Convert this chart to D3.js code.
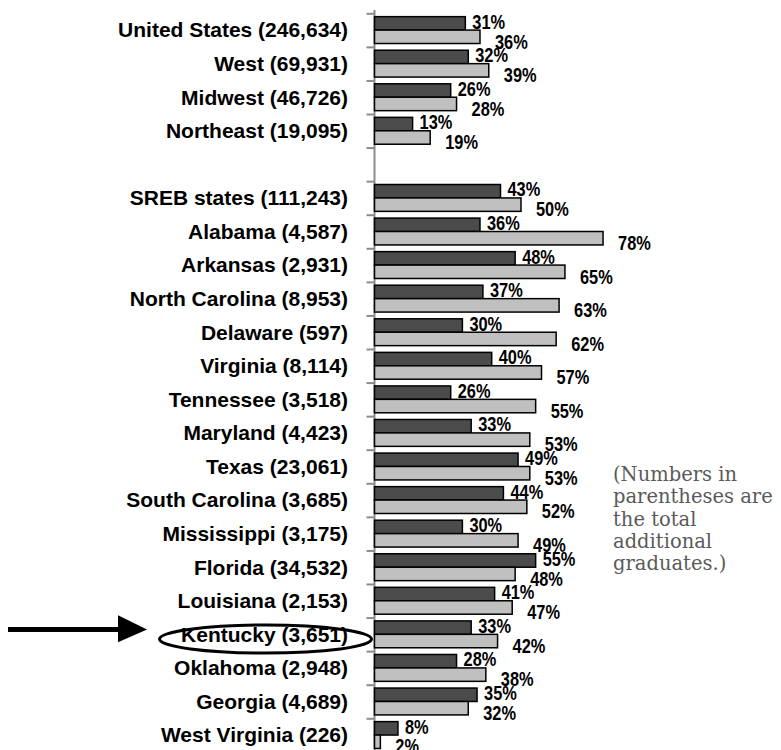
<!DOCTYPE html>
<html>
<head>
<meta charset="utf-8">
<script src="https://cdn.jsdelivr.net/npm/d3@7"></script>
<style>
  body { margin: 0; background: #fff; }
  svg { display: block; }
</style>
</head>
<body>
<div id="chart"></div>
<script>
// rows top to bottom, "" is the empty spacer row
const names = ["United States", "West", "Midwest", "Northeast", "",
  "SREB states", "Alabama", "Arkansas", "North Carolina", "Delaware", "Virginia",
  "Tennessee", "Maryland", "Texas", "South Carolina", "Mississippi", "Florida",
  "Louisiana", "Kentucky", "Oklahoma", "Georgia", "West Virginia"];
const totals = [246634, 69931, 46726, 19095, null,
  111243, 4587, 2931, 8953, 597, 8114,
  3518, 4423, 23061, 3685, 3175, 34532,
  2153, 3651, 2948, 4689, 226];
const darkValues = [31, 32, 26, 13, null,
  43, 36, 48, 37, 30, 40, 26, 33, 49, 44, 30, 55, 41, 33, 28, 35, 8];
const lightValues = [36, 39, 28, 19, null,
  50, 78, 65, 63, 62, 57, 55, 53, 53, 52, 49, 48, 47, 42, 38, 32, 2];
const noteLines = ["(Numbers in", "parentheses are", "the total", "additional", "graduates.)"];
const highlight = "Kentucky";

var width = 781, height = 750;
var margin = {top: 13.3, left: 374.5};
var rowH = 33.57;

var svg = d3.select("#chart")
  .append("svg")
  .attr("width", width)
  .attr("height", height);

// scales
var idx = d3.range(names.length);
var yScale = d3.scaleBand()
  .domain(idx)
  .range([margin.top, margin.top + rowH * names.length]);
var yEdge = d3.scaleLinear()
  .domain([0, names.length])
  .range([margin.top, margin.top + rowH * names.length]);
var xScale = d3.scaleLinear()
  .domain([0, 100])
  .range([margin.left, margin.left + 293]);

var pad = yScale.bandwidth() * 0.1;
var barH = yScale.bandwidth() * 0.4;

// axis with ticks on the row boundaries
var axis = svg.append("g")
  .attr("transform", "translate(" + margin.left + ",0)")
  .call(d3.axisLeft(yEdge).tickValues(d3.range(names.length + 1)).tickFormat("").tickSize(8).tickSizeOuter(0));
axis.select(".domain").attr("stroke", "#8c8c8c").attr("stroke-width", 2)
  .attr("d", "M0,10V750");
axis.selectAll(".tick line").attr("stroke", "#8c8c8c").attr("stroke-width", 2);

var rows = idx.filter(function(i) { return darkValues[i] != null; });

// dark bars
svg.selectAll(".dark").data(rows)
  .enter().append("rect")
  .attr("class", "dark")
  .attr("x", xScale(0))
  .attr("y", function(i) { return yScale(i) + pad; })
  .attr("width", function(i) { return xScale(darkValues[i]) - xScale(0); })
  .attr("height", barH)
  .attr("fill", "#4b4b4b")
  .attr("stroke", "#000")
  .attr("stroke-width", 1.5);

// light bars
svg.selectAll(".light").data(rows)
  .enter().append("rect")
  .attr("class", "light")
  .attr("x", xScale(0))
  .attr("y", function(i) { return yScale(i) + pad + barH; })
  .attr("width", function(i) { return xScale(lightValues[i]) - xScale(0); })
  .attr("height", barH)
  .attr("fill", "#c0c0c0")
  .attr("stroke", "#000")
  .attr("stroke-width", 1.5);

// value labels, squeezed to look like a narrow face
var labelFont = "'Liberation Sans', Arial, sans-serif";
function pctLabel(cls, values, dx, dyFn) {
  svg.selectAll("." + cls).data(rows)
    .enter().append("text")
    .attr("class", cls)
    .attr("transform", function(i) {
      return "translate(" + (xScale(values[i]) + dx) + "," + dyFn(i) + ") scale(0.82,1)";
    })
    .attr("font-family", labelFont)
    .attr("font-weight", "bold")
    .attr("font-size", 20)
    .text(function(i) { return values[i] + "%"; });
}
pctLabel("dlab", darkValues, 7, function(i) { return yScale(i) + pad + barH - 1.5; });
pctLabel("llab", lightValues, 15, function(i) { return yScale(i) + pad + 2 * barH + 5; });

// category labels
svg.selectAll(".cat").data(rows)
  .enter().append("text")
  .attr("x", 348)
  .attr("y", function(i) { return yScale(i) + yScale.bandwidth() / 2; })
  .attr("dy", "0.35em")
  .attr("text-anchor", "end")
  .attr("font-family", labelFont)
  .attr("font-weight", "bold")
  .attr("font-size", 21)
  .text(function(i) { return names[i] + " (" + d3.format(",")(totals[i]) + ")"; });

// highlight ellipse and arrow
var hi = names.indexOf(highlight);
var hy = yScale(hi) + yScale.bandwidth() / 2;
svg.append("ellipse")
  .attr("cx", 265.5)
  .attr("cy", hy + 4.7)
  .attr("rx", 106)
  .attr("ry", 14)
  .attr("fill", "none")
  .attr("stroke", "#000")
  .attr("stroke-width", 3);
svg.append("line")
  .attr("x1", 8).attr("x2", 122)
  .attr("y1", hy - 4.8).attr("y2", hy - 4.8)
  .attr("stroke", "#000")
  .attr("stroke-width", 5);
svg.append("path")
  .attr("d", "M118," + (hy - 19) + "L147," + (hy - 4.8) + "L118," + (hy + 8) + "Z")
  .attr("fill", "#000");

// note
svg.append("text")
  .attr("x", 613)
  .attr("y", 481)
  .attr("font-family", "'DejaVu Serif', Georgia, serif")
  .attr("font-size", 19.5)
  .attr("fill", "#5a5a5a")
  .selectAll("tspan").data(noteLines)
  .enter().append("tspan")
  .attr("x", 613)
  .attr("dy", function(d, i) { return i == 0 ? 0 : 22.3; })
  .text(function(d) { return d; });
</script>
</body>
</html>
